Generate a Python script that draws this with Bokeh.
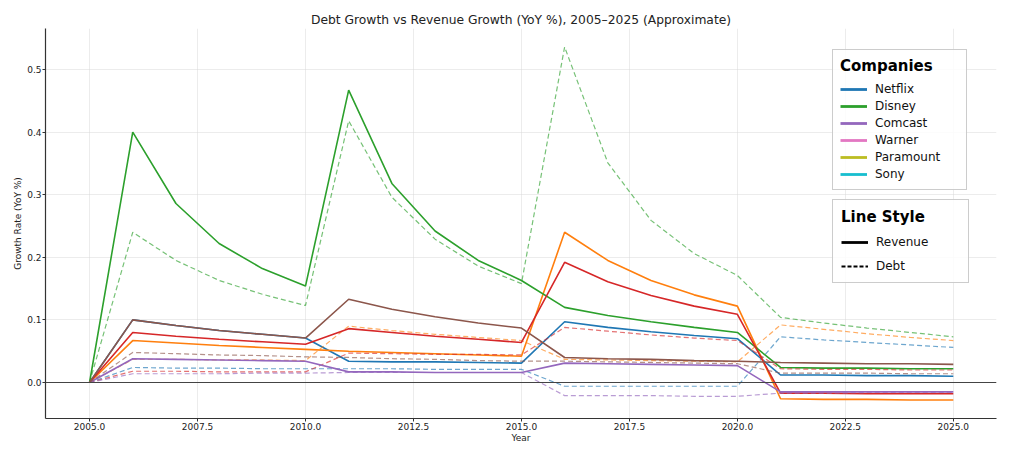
from bokeh.plotting import figure
from bokeh.models import Range1d, FixedTicker, PrintfTickFormatter, Span, Legend, LegendItem
from bokeh.embed import file_html
from bokeh.resources import INLINE

# ---------------- data ----------------
years = list(range(2005, 2026))
x_tick_values = [2005.0, 2007.5, 2010.0, 2012.5, 2015.0, 2017.5, 2020.0, 2022.5, 2025.0]
y_tick_values = [0.0, 0.1, 0.2, 0.3, 0.4, 0.5]

legend_companies = ["Netflix", "Disney", "Comcast", "Warner", "Paramount", "Sony"]
legend_styles = ["Revenue", "Debt"]

# series in the order they were drawn (default colour cycle)
series_names = ["S1", "S2", "S3", "S4", "S5", "S6"]

rev_s1 = [0, 0.100, 0.091, 0.083, 0.077, 0.071, 0.034, 0.033, 0.033, 0.032, 0.031,
          0.097, 0.088, 0.081, 0.075, 0.070, 0.012, 0.012, 0.011, 0.011, 0.010]
rev_s2 = [0, 0.067, 0.063, 0.059, 0.056, 0.053, 0.050, 0.048, 0.046, 0.044, 0.042,
          0.240, 0.195, 0.163, 0.140, 0.122, -0.026, -0.027, -0.027, -0.028, -0.028]
rev_s3 = [0, 0.400, 0.286, 0.222, 0.182, 0.154, 0.467, 0.318, 0.242, 0.195, 0.163,
          0.120, 0.107, 0.097, 0.088, 0.080, 0.024, 0.023, 0.023, 0.022, 0.022]
rev_s4 = [0, 0.080, 0.074, 0.069, 0.065, 0.061, 0.086, 0.080, 0.074, 0.069, 0.064,
          0.192, 0.161, 0.139, 0.122, 0.109, -0.017, -0.017, -0.018, -0.018, -0.018]
rev_s5 = [0, 0.038, 0.037, 0.036, 0.035, 0.034, 0.017, 0.017, 0.016, 0.016, 0.016,
          0.031, 0.030, 0.029, 0.028, 0.027, -0.015, -0.015, -0.015, -0.015, -0.015]
rev_s6 = [0, 0.100, 0.091, 0.083, 0.077, 0.071, 0.133, 0.117, 0.105, 0.095, 0.087,
          0.040, 0.038, 0.037, 0.035, 0.034, 0.032, 0.031, 0.030, 0.030, 0.029]

debt_s1 = [0, 0.024, 0.023, 0.023, 0.022, 0.022, 0.022, 0.022, 0.021, 0.021, 0.021,
           -0.006, -0.006, -0.006, -0.006, -0.006, 0.073, 0.068, 0.064, 0.060, 0.056]
debt_s2 = [0, 0.037, 0.037, 0.036, 0.036, 0.035, 0.090, 0.083, 0.077, 0.072, 0.067,
           0.037, 0.036, 0.035, 0.034, 0.033, 0.092, 0.085, 0.078, 0.072, 0.067]
debt_s3 = [0, 0.240, 0.195, 0.163, 0.141, 0.123, 0.418, 0.296, 0.229, 0.186, 0.158,
           0.536, 0.351, 0.259, 0.206, 0.171, 0.104, 0.095, 0.087, 0.080, 0.073]
debt_s4 = [0, 0.018, 0.018, 0.017, 0.017, 0.017, 0.047, 0.046, 0.045, 0.045, 0.044,
           0.088, 0.082, 0.076, 0.071, 0.067, 0.022, 0.021, 0.021, 0.020, 0.020]
debt_s5 = [0, 0.014, 0.014, 0.014, 0.015, 0.015, 0.016, 0.016, 0.016, 0.016, 0.016,
           -0.021, -0.021, -0.021, -0.022, -0.022, -0.017, -0.017, -0.016, -0.016, -0.016]
debt_s6 = [0, 0.048, 0.046, 0.044, 0.043, 0.041, 0.040, 0.038, 0.037, 0.035, 0.034,
           0.034, 0.033, 0.032, 0.031, 0.030, 0.015, 0.015, 0.015, 0.014, 0.014]

revenue = [rev_s1, rev_s2, rev_s3, rev_s4, rev_s5, rev_s6]
debt = [debt_s1, debt_s2, debt_s3, debt_s4, debt_s5, debt_s6]

# ---------------- styles ----------------
line_colors = ["#1f77b4", "#ff7f0e", "#2ca02c", "#d62728", "#9467bd", "#8c564b"]
legend_colors = ["#1f77b4", "#2ca02c", "#9467bd", "#e377c2", "#bcbd22", "#17becf"]
FONT = "DejaVu Sans"

p = figure(width=1003, height=450, output_backend="svg", toolbar_location=None,
           x_range=Range1d(2003.98, 2026.0), y_range=Range1d(-0.0575, 0.5655),
           min_border_left=45, min_border_right=7, min_border_top=28, min_border_bottom=32)
p.outline_line_color = None
p.background_fill_color = "white"

p.title.text = "Debt Growth vs Revenue Growth (YoY %), 2005\u20132025 (Approximate)"
p.title.align = "center"
p.title.text_font = FONT
p.title.text_font_size = "12.3px"
p.title.text_font_style = "normal"
p.title.text_color = "#222222"
p.title.standoff = 3

for ax in (p.xaxis[0], p.yaxis[0]):
    ax.axis_line_color = "#333333"
    ax.axis_line_width = 1.2
    ax.major_tick_line_color = "#333333"
    ax.major_tick_out = 3
    ax.major_tick_in = 0
    ax.minor_tick_line_color = None
    ax.major_label_standoff = 1
    ax.major_label_text_font = FONT
    ax.major_label_text_font_size = "9px"
    ax.major_label_text_color = "#222222"
    ax.axis_label_text_font = FONT
    ax.axis_label_text_font_size = "9px"
    ax.axis_label_text_font_style = "normal"
    ax.axis_label_text_color = "#222222"
    ax.axis_label_standoff = 1

p.xaxis.axis_label = "Year"
p.xaxis.axis_label_standoff = 0
p.yaxis.axis_label = "Growth Rate (YoY %)"
p.xaxis.ticker = FixedTicker(ticks=x_tick_values)
p.yaxis.ticker = FixedTicker(ticks=y_tick_values)
p.xaxis.formatter = PrintfTickFormatter(format="%.1f")
p.yaxis.formatter = PrintfTickFormatter(format="%.1f")

p.xgrid.ticker = FixedTicker(ticks=x_tick_values)
p.ygrid.ticker = FixedTicker(ticks=y_tick_values)
for g in (p.xgrid[0], p.ygrid[0]):
    g.grid_line_color = "#d8d8d8"
    g.grid_line_alpha = 0.6
    g.grid_line_width = 0.8

p.add_layout(Span(location=0, dimension="width", line_color="#444444", line_width=1.2))

for rev, dbt, col in zip(revenue, debt, line_colors):
    p.line(years, rev, line_color=col, line_width=1.6)
    p.line(years, dbt, line_color=col, line_width=1.2, line_dash="5 3", line_alpha=0.65)

# legends (single-NaN renderers carry the legend glyph styles; nothing is drawn in the plot)
nan = float("nan")
comp_items = []
for name, col in zip(legend_companies, legend_colors):
    r = p.line(x=[years[0]], y=[nan], line_color=col, line_width=2.8)
    comp_items.append(LegendItem(label=name, renderers=[r]))
r_rev = p.line(x=[years[0]], y=[nan], line_color="black", line_width=2.8)
r_debt = p.line(x=[years[0]], y=[nan], line_color="black", line_width=2.0, line_dash="4 2")
style_items = [LegendItem(label=legend_styles[0], renderers=[r_rev]),
               LegendItem(label=legend_styles[1], renderers=[r_debt])]


def style_legend(lg, spacing, padding, standoff):
    lg.title_text_font = FONT
    lg.title_text_font_size = "15px"
    lg.title_text_font_style = "bold"
    lg.title_text_color = "black"
    lg.title_standoff = standoff
    lg.label_text_font = FONT
    lg.label_text_font_size = "12px"
    lg.label_text_color = "#111111"
    lg.label_height = 16
    lg.glyph_height = 16
    lg.glyph_width = 27
    lg.label_standoff = 8
    lg.label_width = 84
    lg.spacing = spacing
    lg.padding = padding
    lg.margin = 0
    lg.border_line_color = "#999999"
    lg.border_line_width = 1
    lg.background_fill_color = "white"
    lg.background_fill_alpha = 0.85


leg1 = Legend(items=comp_items, title="Companies", location=(787, 228))
style_legend(leg1, 1, 7, 6)
leg2 = Legend(items=style_items, title="Line Style", location=(787, 135))
style_legend(leg2, 8, 8, 8)
p.add_layout(leg1)
p.add_layout(leg2)

open("out.html", "w").write(file_html(p, INLINE))
